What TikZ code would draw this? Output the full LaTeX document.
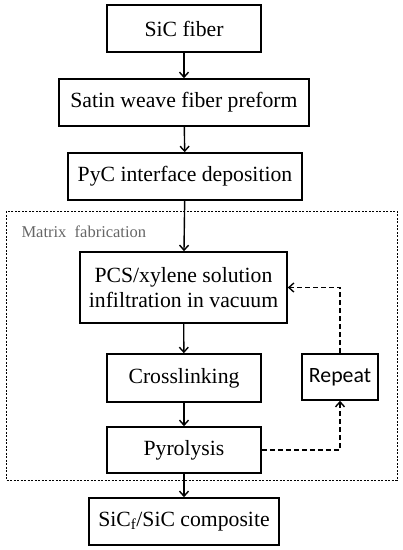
\documentclass[tikz,border=0pt]{standalone}
\usepackage{fontspec}
\setmainfont{Liberation Serif}
\newfontfamily\repfont{Carlito}
\usetikzlibrary{arrows.meta}
\tikzset{
	stepbox/.style={draw,line width=1.6pt,align=center,inner sep=0pt,font=\fontsize{21.7}{25}\selectfont},
	flow/.style={line width=1.4pt,-{Straight Barb[length=5pt,width=9pt]}},
	loopflow/.style={flow,dashed,dash pattern=on 5pt off 3pt}
}
\begin{document}
\begin{tikzpicture}[x=1pt,y=-1pt]
			\useasboundingbox (0,0) rectangle (403,550);
			
			\node[stepbox,minimum width=154pt,minimum height=47pt] (fiber) at (184,28.5) {SiC fiber};
			\node[stepbox,minimum width=250pt,minimum height=47pt] (preform) at (184,102.5) {Satin weave fiber preform};
			\node[stepbox,minimum width=234pt,minimum height=47pt] (pyc) at (185,176.5) {PyC interface deposition};
			
			\draw[dashed,dash pattern=on 2pt off 1.5pt,line width=0.9pt] (6,211) rectangle (397,480);
			\node[anchor=west,text=black!60,font=\fontsize{16.5}{19}\selectfont] (matrix) at (18,232) {Matrix\ \ fabrication};
			
			\node[stepbox,minimum width=207pt,minimum height=71pt] (pcs) at (183.5,287.5) {PCS/xylene solution\\infiltration in vacuum};
			\node[stepbox,minimum width=154pt,minimum height=48pt] (cross) at (184,378) {Crosslinking};
			\node[stepbox,minimum width=76pt,minimum height=46pt,font=\repfont\fontsize{21.8}{25}\selectfont] (repeat) at (340,377) {Repeat};
			\node[stepbox,minimum width=154pt,minimum height=46pt] (pyro) at (184,450) {Pyrolysis};
			\node[stepbox,minimum width=190pt,minimum height=47pt] (comp) at (184,521.5) {SiC$_\mathrm{f}$/SiC composite};
			
			\draw[flow] (fiber) -- (preform);
			\draw[flow] (preform) -- (pyc);
			\draw[flow] (pyc) -- (pcs);
			\draw[flow] (pcs) -- (cross);
			\draw[flow] (cross) -- (pyro);
			\draw[flow] (pyro) -- (comp);
			
			\draw[loopflow] (pyro.east) -| (repeat.south);
			\draw[loopflow] (repeat.north) |- (pcs.east);
		\end{tikzpicture}
\end{document}
